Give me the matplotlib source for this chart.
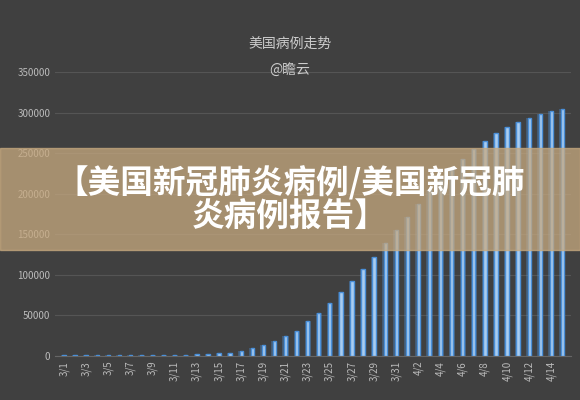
import matplotlib
matplotlib.use('Agg')
from matplotlib import pyplot as plt
import numpy as np

plt.rcParams['font.family'] = ['Noto Sans CJK SC', 'DejaVu Sans']

dates = [f'3/{d}' for d in range(1, 32)] + [f'4/{d}' for d in range(1, 16)]
cases = [900, 950, 1000, 1050, 1100, 1150, 1250, 1400, 1500, 1600, 1700, 1800, 2100, 2700, 3400,
         4300, 6500, 10000, 14000, 18500, 25000, 31000, 43000, 53000, 65000, 79000,
         92000, 107000, 122000, 139000, 155000, 171000, 187000, 204000, 217000, 229000,
         243000, 255000, 265000, 275000, 282000, 288000, 293000, 298000, 302000, 304000]

bg = '#404040'
fig = plt.figure(figsize=(5.8, 4.0), dpi=100, facecolor=bg)
ax = fig.add_axes([0.095, 0.11, 0.89, 0.71], facecolor=bg)
x = np.arange(len(dates))
ax.bar(x, cases, width=0.55, color='#4a90d9', alpha=0.35, zorder=2)
ax.bar(x, cases, width=0.3, color='#a9cdf0', edgecolor='#4a8fd8', linewidth=1.0, zorder=3)
ax.set_ylim(0, 350000)
ax.set_xlim(-0.8, len(dates) - 0.2)
ax.set_yticks(range(0, 350001, 50000))
ax.set_xticks(x[::2])
ax.set_xticklabels(dates[::2], rotation=90, fontsize=7, color='#bbbbbb')
ax.tick_params(axis='y', labelsize=7, colors='#bbbbbb', length=0)
ax.tick_params(axis='x', length=0)
ax.grid(axis='y', color='#555555', linewidth=0.8, zorder=0)
for s in ax.spines.values():
    s.set_visible(False)
ax.spines['bottom'].set_visible(True)
ax.spines['bottom'].set_color('#666666')

fig.text(0.5, 0.88, '美国病例走势', ha='center', fontsize=10, color='#cccccc')
fig.text(0.5, 0.815, '@瞻云', ha='center', fontsize=10, color='#cccccc')

fig.patches.append(plt.Rectangle((0, 0.375), 1, 0.255, transform=fig.transFigure,
                                 color='#c8aa80', alpha=0.75, zorder=5))
fig.text(0.5, 0.5, '【美国新冠肺炎病例/美国新冠肺\n炎病例报告】', ha='center', va='center',
         fontsize=23.5, fontweight='bold', color='white', linespacing=1.0, zorder=6)

fig.savefig('out.png', dpi=100, facecolor=bg)
